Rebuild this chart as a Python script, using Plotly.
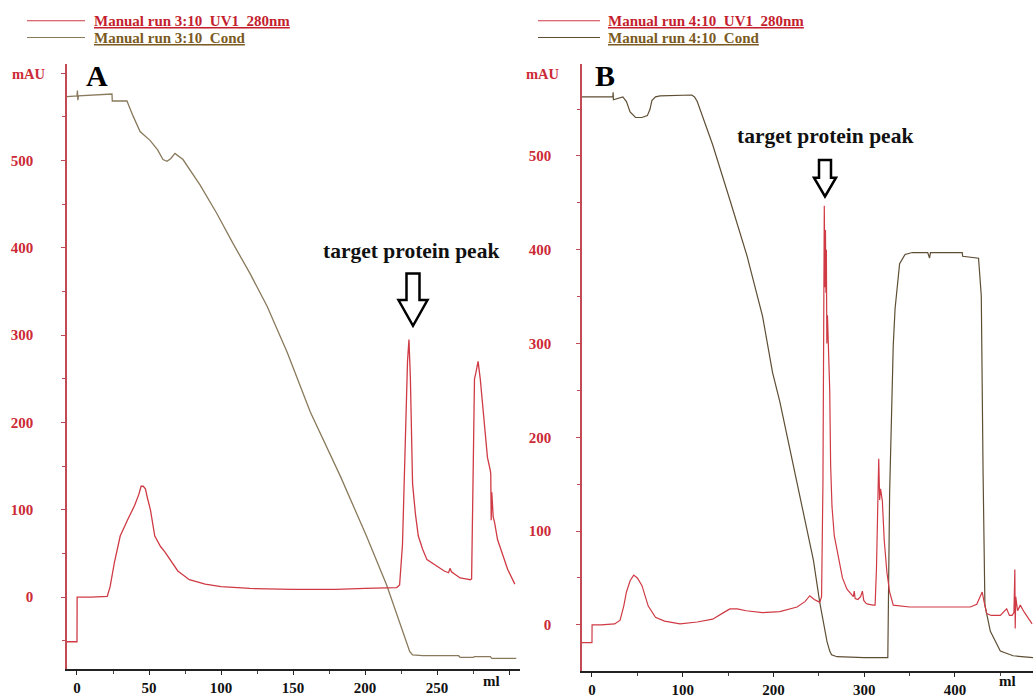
import plotly.graph_objects as go

# ---------------- Run 3:10 (panel A) ----------------
uv_a_ml = [-7, 0, 0.1, 10, 21, 23, 26, 30, 35, 40, 43, 44.5, 46, 47.5, 49, 51, 54, 58, 61,
           65, 70, 78, 89, 100, 120, 150, 180, 200, 215, 222, 224, 226, 228, 229.5, 230.5,
           231.5, 233, 235, 237, 240, 243, 250, 255, 258, 259, 260, 263, 266, 270, 273, 274,
           275, 276, 277, 278.5, 280, 282, 285, 287, 287.3, 287.6, 288, 289, 290, 292, 296,
           299, 304]
uv_a_mau = [-51, -51, 0, 0, 1, 12, 40, 70, 88, 105, 118, 127, 127, 124, 113, 100, 70, 58, 52,
            42, 30, 20, 15, 12, 10, 9, 9, 10, 11, 11, 14, 60, 180, 270, 295,
            250, 130, 95, 70, 55, 43, 35, 30, 28, 33, 29, 25, 22, 21, 20, 21,
            150, 250, 257, 270, 250, 210, 160, 145, 141, 88, 120, 92, 85, 66, 45,
            32, 15]

cond_a_ml = [-7, 0, 0.3, 0.6, 1, 24.3, 24.5, 34.7, 38.9, 43.8, 50.7, 56, 59.7, 62.5, 65, 68,
             73.6, 85.4, 97.2, 108.3, 120, 132, 146, 162, 183, 201, 215, 224, 229, 231, 233,
             240, 265, 266, 275, 276, 287, 288, 305]
cond_a_mau = [573, 574, 580, 569, 574, 576, 568, 568, 551, 533, 523, 512, 501, 499, 502, 508,
              501, 472, 439, 405, 371, 333, 280, 212, 138, 70, 14, -28, -52, -62, -66,
              -67, -67, -69, -69, -68, -68, -70, -70]

# ---------------- Run 4:10 (panel B) ----------------
uv_b_ml = [-11, 0, 0.1, 10, 25, 31, 35, 38, 42, 46, 50, 55, 62, 70, 80, 97, 116, 133, 145, 152,
           160, 170, 188, 207, 226, 235, 240, 245, 249, 251, 253, 254.5, 256, 256.8, 257.3,
           257.8, 258.3, 258.8, 259.5, 261, 262, 263, 264.5, 267, 271, 276, 281, 286, 288,
           289, 290, 293, 296, 298, 299.5, 302, 304, 310, 312, 313.5, 315, 316, 317, 318, 320,
           322, 325, 328, 332, 350, 380, 400, 417, 424, 428, 430, 432, 435, 440, 450, 457,
           460, 463, 465, 466, 466.4, 467, 469, 472, 476, 480, 485]
uv_b_mau = [-19, -19, 0, 0, 1, 5, 20, 35, 47, 53, 50, 42, 20, 8, 4, 1, 3, 6, 13, 17,
            17, 15, 13, 14, 19, 25, 31, 27, 25, 24, 30, 150, 447, 360, 421,
            354, 400, 300, 330, 290, 250, 170, 126, 95, 74, 50, 38, 32, 30,
            36, 28, 27, 30, 36, 26, 23, 22, 21, 21, 60, 150, 177, 133, 145, 132,
            91, 56, 35, 21, 19, 19, 19, 19, 22, 30, 35, 25, 12, 10, 10, 17,
            10, 10, 13, 59, -4, 30, 15, 21, 14, 8, 1]

cond_b_ml = [-11, 23, 23.3, 23.6, 34, 38, 42, 48, 55, 61, 64, 66, 70, 75, 110, 113, 116, 124, 133,
             152, 171, 188, 199, 207, 226, 244, 251, 259, 262, 264, 270, 300, 326, 328, 332,
             334, 339, 345, 353, 370, 372, 373, 408, 408.5, 426, 429, 431, 433, 439, 450, 464,
             486]
cond_b_mau = [563, 563, 568, 560, 563, 558, 547, 541, 541, 543, 550, 559, 563, 564, 565, 563,
              558, 537, 512, 453, 393, 329, 269, 238, 151, 69, 24, -18, -28, -32, -34, -35, -35,
              140, 298, 337, 385, 395, 397, 397, 391, 397, 397, 393, 391, 351, 161, 21, -7,
              -28, -33, -35]

y_tick_vals = [0, 100, 200, 300, 400, 500, 600]
y_tick_text = ["0", "100", "200", "300", "400", "500", ""]
x_a_ticks = [0, 50, 100, 150, 200, 250, 300]
x_a_text = ["0", "50", "100", "150", "200", "250", ""]
x_b_ticks = [0, 100, 200, 300, 400]
x_b_text = ["0", "100", "200", "300", "400"]

W, H = 1033, 698
SERIF = "Liberation Serif"
UV_RED = "#cf3a44"
COND_A = "#8a7a5c"
COND_B = "#5e4e34"
AXIS_RED = "#c24a55"


def px(x):
    return x / W


def py(y):
    return 1 - y / H


fig = go.Figure()
fig.add_trace(go.Scatter(x=cond_a_ml, y=cond_a_mau, mode="lines", xaxis="x", yaxis="y",
                         line=dict(color=COND_A, width=1.3), showlegend=False))
fig.add_trace(go.Scatter(x=uv_a_ml, y=uv_a_mau, mode="lines", xaxis="x", yaxis="y",
                         line=dict(color=UV_RED, width=1.3), showlegend=False))
fig.add_trace(go.Scatter(x=cond_b_ml, y=cond_b_mau, mode="lines", xaxis="x2", yaxis="y2",
                         line=dict(color=COND_B, width=1.2), showlegend=False))
fig.add_trace(go.Scatter(x=uv_b_ml, y=uv_b_mau, mode="lines", xaxis="x2", yaxis="y2",
                         line=dict(color=UV_RED, width=1.2), showlegend=False))

tick_font_y = dict(family=SERIF, size=15, color="#cc2a36", weight="bold")
tick_font_x = dict(family=SERIF, size=15, color="#111111", weight="bold")


def xaxis_cfg(domain, rng, ticks, labels, minor_step):
    return dict(domain=domain, range=rng, tickmode="array", tickvals=ticks, ticktext=labels,
                showline=True, linecolor="#222222", linewidth=1.5, ticks="outside",
                ticklen=4, tickcolor="#222222", tickfont=tick_font_x, showgrid=False,
                zeroline=False,
                minor=dict(tickmode="linear", tick0=0, dtick=minor_step, ticks="outside",
                           ticklen=3, tickcolor="#444444", showgrid=False))


def yaxis_cfg(domain, rng, anchor, standoff):
    return dict(domain=domain, range=rng, anchor=anchor, tickmode="array",
                tickvals=y_tick_vals, ticktext=y_tick_text, showline=True,
                linecolor=AXIS_RED, linewidth=1.5, ticks="outside", ticklen=4,
                tickcolor=AXIS_RED, tickfont=tick_font_y, showgrid=False, zeroline=False,
                ticklabelstandoff=standoff,
                minor=dict(tickmode="linear", tick0=0, dtick=50, ticks="outside",
                           ticklen=3, tickcolor=AXIS_RED, showgrid=False))


fig.update_layout(
    width=W, height=H, margin=dict(l=0, r=0, t=0, b=0),
    paper_bgcolor="white", plot_bgcolor="white", showlegend=False,
    xaxis=xaxis_cfg([px(67), px(520)], [-6.94, 307.6], x_a_ticks, x_a_text, 25) | dict(anchor="y"),
    yaxis=yaxis_cfg([py(678), py(65)], [-82.5, 610.2], "x", 25),
    xaxis2=xaxis_cfg([px(582), 1.0], [-11.0, 486.0], x_b_ticks, x_b_text, 50) | dict(anchor="y2"),
    yaxis2=yaxis_cfg([py(680), py(65)], [-49.5, 597.9], "x2", 22),
)

annotations = []
shapes = []


def text(x, y, s, size, color, xanchor="center"):
    annotations.append(dict(x=px(x), y=py(y), xref="paper", yref="paper", text=s,
                            showarrow=False, xanchor=xanchor, yanchor="middle",
                            font=dict(family=SERIF, size=size, color=color, weight="bold")))


# legend entries above each panel
legend_rows = [
    (27, 85, 92, "Manual run 3:10_UV1_280nm", "Manual run 3:10_Cond", "#c41e2e", "#7a5a22", COND_A),
    (538, 600, 606, "Manual run 4:10_UV1_280nm", "Manual run 4:10_Cond", "#c41e2e", "#7a5a22", COND_B),
]
for x0, x1, tx, uv_label, cond_label, uv_col, cond_col, cond_line in legend_rows:
    shapes.append(dict(type="line", xref="paper", yref="paper", x0=px(x0), x1=px(x1),
                       y0=py(21), y1=py(21), line=dict(color=UV_RED, width=1.2)))
    shapes.append(dict(type="line", xref="paper", yref="paper", x0=px(x0), x1=px(x1),
                       y0=py(38), y1=py(38), line=dict(color=cond_line, width=1.2)))
    text(tx, 21, "<u>" + uv_label + "</u>", 15, uv_col, "left")
    text(tx, 39, "<u>" + cond_label + "</u>", 15, cond_col, "left")

# unit labels and panel letters
text(29, 75, "mAU", 14.5, "#cc2a36")
text(543, 75, "mAU", 14.5, "#cc2a36")
text(491, 690, "ml", 15, "#111111")
text(1007, 690, "ml", 15, "#111111")
text(97, 76, "A", 30, "#000000")
text(605, 76, "B", 30, "#000000")

# peak call-outs
text(411, 254, "target protein peak", 21.5, "#111111")
text(825, 138, "target protein peak", 21.5, "#111111")


def block_arrow(cx, top, head_top, tip, shaft_half, head_half):
    pts = [(cx - shaft_half, top), (cx + shaft_half, top), (cx + shaft_half, head_top),
           (cx + head_half, head_top), (cx, tip), (cx - head_half, head_top),
           (cx - shaft_half, head_top)]
    path = "M " + " L ".join(f"{px(x):.5f},{py(y):.5f}" for x, y in pts) + " Z"
    shapes.append(dict(type="path", xref="paper", yref="paper", path=path,
                       fillcolor="white", line=dict(color="#000000", width=2.5)))


block_arrow(413, 277, 304, 330, 6.5, 14.5)
block_arrow(825, 162, 180, 199, 6, 11)

fig.update_layout(annotations=annotations, shapes=shapes)
fig.write_html("out.html")
